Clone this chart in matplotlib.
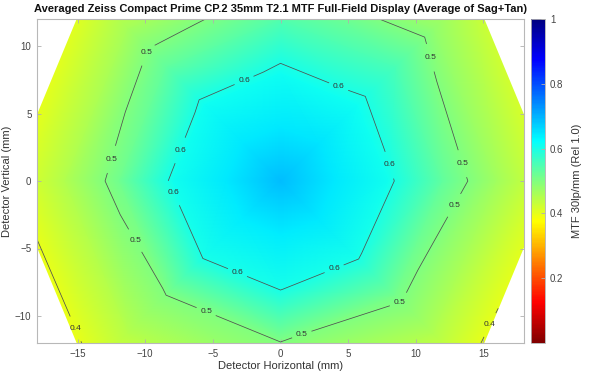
import numpy as np
import matplotlib
matplotlib.use("Agg")
import matplotlib.pyplot as plt
import matplotlib.tri as mtri
from matplotlib.colors import LinearSegmentedColormap

# ---- data: MTF along 8 field directions (degrees) at image-height radii (mm)
radii = [4, 8, 12, 16, 20]
center_mtf = 0.688
angles_deg = [0, 45, 90, 135, 180, 225, 270, 315]
mtf_0 = [0.646, 0.608, 0.530, 0.465, 0.410]
mtf_45 = [0.649, 0.613, 0.553, 0.484, 0.430]
mtf_90 = [0.648, 0.612, 0.545, 0.481, 0.440]
mtf_135 = [0.647, 0.610, 0.531, 0.464, 0.410]
mtf_180 = [0.646, 0.607, 0.515, 0.453, 0.398]
mtf_225 = [0.644, 0.603, 0.499, 0.447, 0.395]
mtf_270 = [0.643, 0.602, 0.498, 0.454, 0.410]
mtf_315 = [0.645, 0.604, 0.510, 0.450, 0.395]
contour_levels = [0.4, 0.5, 0.6]
cbar_ticks = [0.2, 0.4, 0.6, 0.8, 1.0]
cbar_ticklabels = ["0.2", "0.4", "0.6", "0.8", "1"]
x_ticks = [-15, -10, -5, 0, 5, 10, 15]
y_ticks = [-10, -5, 0, 5, 10]

# label anchor positions (mm) for contour labels
label_pos = [(-2.8, 8.0), (4.4, 7.55), (-7.8, 2.6), (8.3, 1.33), (-8.2, -1.2),
             (-3.2, -6.9), (4.0, -6.7),
             (-9.5, 9.2), (-12.2, 1.4), (-10.5, -4.1), (-5.5, -9.7), (1.6, -11.55),
             (8.75, -8.67), (12.6, -1.5), (13.1, 1.04), (10.8, 8.96),
             (-15.4, -11.2), (15.6, -10.8)]

spokes = [mtf_0, mtf_45, mtf_90, mtf_135, mtf_180, mtf_225, mtf_270, mtf_315]

# ---- build polar point set
xs = [0.0]
ys = [0.0]
zs = [center_mtf]
nA = len(angles_deg)
nR = len(radii)
for j, r in enumerate(radii):
    for k, a in enumerate(angles_deg):
        th = np.deg2rad(a)
        xs.append(r * np.cos(th))
        ys.append(r * np.sin(th))
        zs.append(spokes[k][j])
xs = np.array(xs); ys = np.array(ys); zs = np.array(zs)

def idx(j, k):
    return 1 + j * nA + (k % nA)

tris = []
for k in range(nA):
    tris.append([0, idx(0, k), idx(0, k + 1)])
for j in range(nR - 1):
    for k in range(nA):
        a, b = idx(j, k), idx(j, k + 1)
        c, d = idx(j + 1, k), idx(j + 1, k + 1)
        tris.append([a, c, d])
        tris.append([a, d, b])
tri = mtri.Triangulation(xs, ys, np.array(tris))

# MATLAB-like jet, reversed
jet_pts = [(0.0, (0.5, 0, 0)), (1/8, (1, 0, 0)), (3/8, (1, 1, 0)),
           (5/8, (0, 1, 1)), (7/8, (0, 0, 1)), (1.0, (0, 0, 0.5))]
cmap = LinearSegmentedColormap.from_list("jet_r_matlab", jet_pts, N=256)

plt.rcParams['font.family'] = ['Liberation Sans', 'DejaVu Sans']

fig = plt.figure(figsize=(6, 3.75), dpi=100)
ax = fig.add_axes([37/600, 32/375, 487/600, 324/375])
tp = ax.tripcolor(tri, zs, shading='gouraud', cmap=cmap, vmin=0, vmax=1)
cs = ax.tricontour(tri, zs, levels=contour_levels, colors='#505050', linewidths=0.55)
labels = ax.clabel(cs, fmt='%.1f', fontsize=6, colors='#333333', inline=True,
                   inline_spacing=3, manual=label_pos)
for t in labels:
    t.set_rotation(0)

ax.set_xlim(-18, 18)
ax.set_ylim(-12, 12)
ax.set_xticks(x_ticks)
ax.set_yticks(y_ticks)
ax.tick_params(direction='in', length=3, width=0.6, colors='#b0b0b0',
               labelcolor='#444444', labelsize=7, top=True, right=True, pad=4)
for s in ax.spines.values():
    s.set_color('#b8b8b8')
    s.set_linewidth(0.8)
ax.set_xlabel('Detector Horizontal (mm)', fontsize=8, color='#333333', labelpad=2)
ax.set_ylabel('Detector Vertical (mm)', fontsize=8, color='#333333', labelpad=2)
ax.set_title('Averaged Zeiss Compact Prime CP.2 35mm T2.1 MTF Full-Field Display (Average of Sag+Tan)',
             fontsize=8.0, fontweight='bold', color='#111111', pad=5)

cax = fig.add_axes([531/600, 32/375, 14/600, 324/375])
cb = fig.colorbar(tp, cax=cax, ticks=cbar_ticks)
cb.ax.set_yticklabels(cbar_ticklabels)
cb.ax.tick_params(direction='in', length=3, width=0.6, colors='#b0b0b0',
                  labelcolor='#444444', labelsize=7)
cb.outline.set_edgecolor('#b0b0b0')
cb.outline.set_linewidth(0.6)
cb.set_label('MTF 30lp/mm (Rel 1.0)', fontsize=8, color='#333333', labelpad=6)

fig.savefig('out.png', dpi=100)
